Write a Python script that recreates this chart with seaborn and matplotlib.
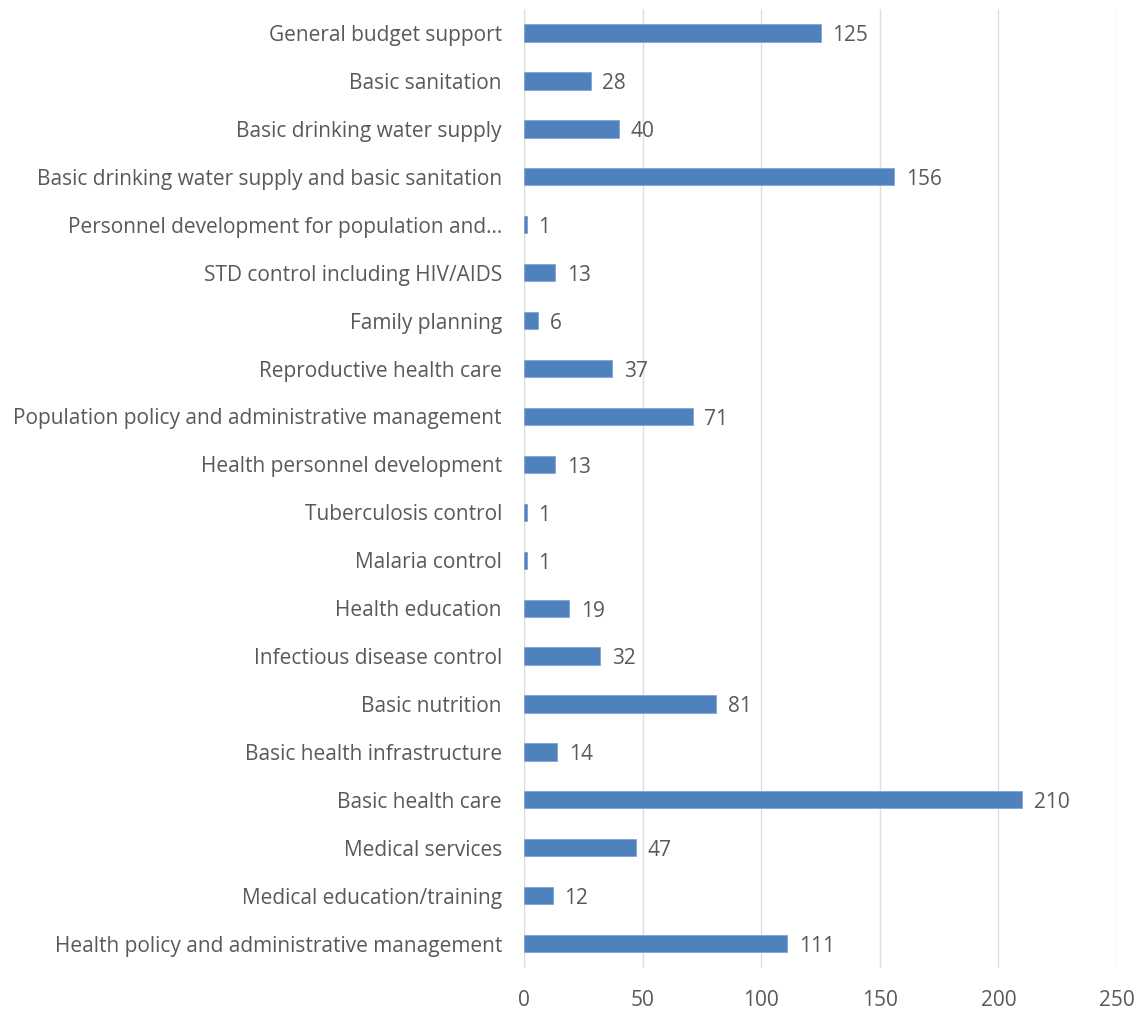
import matplotlib
matplotlib.use("Agg")
import seaborn as sns
import pandas as pd
from matplotlib import pyplot as plt

categories = [
    "General budget support",
    "Basic sanitation",
    "Basic drinking water supply",
    "Basic drinking water supply and basic sanitation",
    "Personnel development for population and\u2026",
    "STD control including HIV/AIDS",
    "Family planning",
    "Reproductive health care",
    "Population policy and administrative management",
    "Health personnel development",
    "Tuberculosis control",
    "Malaria control",
    "Health education",
    "Infectious disease control",
    "Basic nutrition",
    "Basic health infrastructure",
    "Basic health care",
    "Medical services",
    "Medical education/training",
    "Health policy and administrative management",
]
values = [125, 28, 40, 156, 1, 13, 6, 37, 71, 13, 1, 1, 19, 32, 81, 14, 210, 47, 12, 111]
x_ticks = [0, 50, 100, 150, 200, 250]

df = pd.DataFrame({"category": categories, "value": values})

sns.set_style("white")
plt.rcParams["font.family"] = ["Open Sans", "DejaVu Sans"]

text_color = "#595959"
bar_color = "#4F81BD"

fig = plt.figure(figsize=(11.42, 10.10), dpi=100)
ax = fig.add_axes([0.459, 0.042, 0.519, 0.949])

sns.barplot(data=df, x="value", y="category", color=bar_color, width=0.36,
            edgecolor="#7fa6d6", linewidth=0.6, saturation=1, ax=ax)

for i, v in enumerate(values):
    ax.text(v + 5, i + 0.06, str(v), va="center", ha="left", fontsize=15, color=text_color)

ax.set_xlim(0, 250)
ax.set_ylim(len(categories) - 0.5, -0.5)
ax.set_xticks(x_ticks)
ax.xaxis.grid(True, color="#dedede", linewidth=1.0)
ax.set_axisbelow(True)
for s in ax.spines.values():
    s.set_visible(False)
ax.axvline(0, color="#dedede", linewidth=1.0, zorder=0)
ax.set_xlabel("")
ax.set_ylabel("")
ax.tick_params(axis="both", length=0, labelsize=15, labelcolor=text_color)
ax.tick_params(axis="y", pad=16)
ax.tick_params(axis="x", pad=16)

fig.savefig("out.png", dpi=100)
